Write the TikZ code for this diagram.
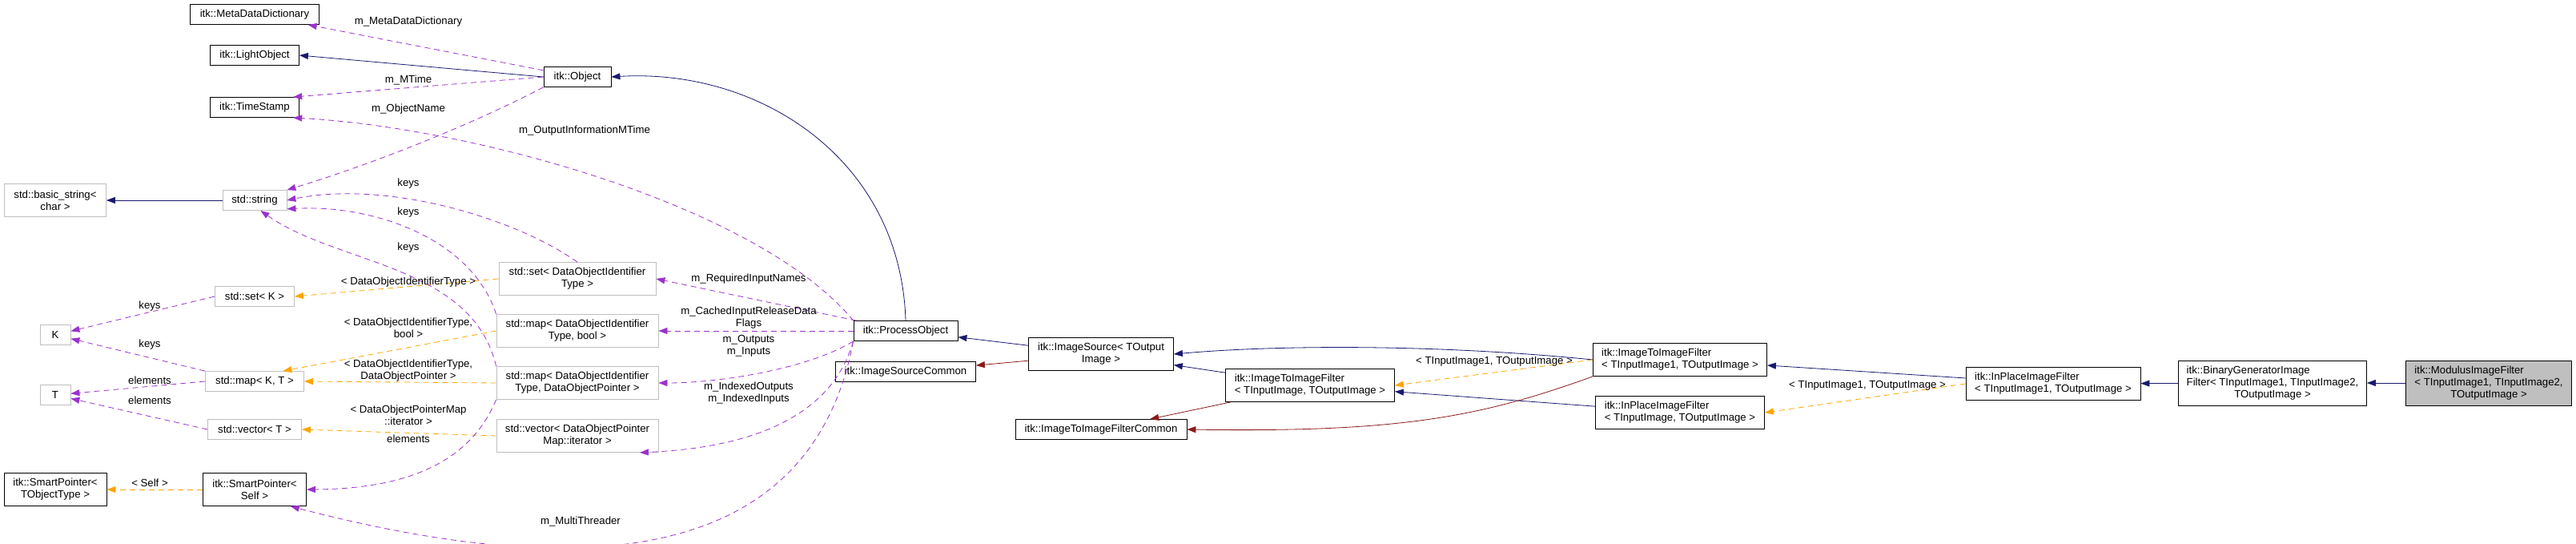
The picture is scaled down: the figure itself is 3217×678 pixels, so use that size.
\documentclass[tikz,border=0pt]{standalone}
\usepackage{fontspec}
\setmainfont{Liberation Sans}
\usetikzlibrary{arrows.meta, positioning, calc}
\definecolor{inhblue}{RGB}{25, 25, 112}
\definecolor{privred}{RGB}{139, 26, 26}
\definecolor{usepurple}{RGB}{154, 50, 205}
\definecolor{tmplorange}{RGB}{255, 165, 0}
\definecolor{boxgray}{RGB}{191, 191, 191}

\tikzset{
    cls/.style={draw=black, thick, fill=white, align=center, inner sep=2pt,
        minimum height=25pt, font=\fontsize{13.2}{15}\selectfont},
    ext/.style={cls, draw=boxgray},
    two/.style={minimum height=41pt},
    inherit/.style={-{Triangle[length=11pt, width=8pt, fill=inhblue]}, draw=inhblue, thick},
    private/.style={-{Triangle[length=11pt, width=8pt, fill=privred]}, draw=privred, thick},
    uses/.style={-{Triangle[length=11pt, width=8pt, fill=usepurple]}, draw=usepurple, thick, dash pattern=on 7pt off 5pt},
    tmpl/.style={-{Triangle[length=11pt, width=8pt, fill=tmplorange]}, draw=tmplorange, thick, dash pattern=on 7pt off 5pt},
    lbl/.style={align=center, font=\fontsize{13.2}{15}\selectfont, inner sep=1pt}
}

\begin{document}
\begin{tikzpicture}[x=1pt, y=-1pt]
    \useasboundingbox (0,0) rectangle (3217,678);

    % Classes on the left
    \node[cls, minimum width=161pt] (meta) at (318,18) {itk::MetaDataDictionary};
    \node[cls, minimum width=111pt] (light) at (318,69) {itk::LightObject};
    \node[cls, minimum width=111pt] (stamp) at (318,134) {itk::TimeStamp};
    \node[cls, minimum width=84pt] (obj) at (721,96) {itk::Object};
    \node[ext, two, minimum width=127pt] (basic) at (69,250) {std::basic\_string<\\char >};
    \node[ext, minimum width=80pt] (str) at (318,250) {std::string};
    \node[ext, minimum width=99pt] (setk) at (318,370) {std::set< K >};
    \node[ext, minimum width=38pt] (K) at (69,418) {K};
    \node[ext, minimum width=123pt] (mapkt) at (318,476) {std::map< K, T >};
    \node[ext, minimum width=38pt] (T) at (69,493) {T};
    \node[ext, minimum width=117pt] (vect) at (318,536) {std::vector< T >};
    \node[cls, two, minimum width=128pt] (sptobj) at (69,611) {itk::SmartPointer<\\TObjectType >};
    \node[cls, two, minimum width=129pt] (spself) at (318,611) {itk::SmartPointer<\\Self >};

    % Containers of the process object
    \node[ext, two, minimum width=196pt] (setd) at (721,348) {std::set< DataObjectIdentifier\\Type >};
    \node[ext, two, minimum width=202pt] (mapb) at (721,413) {std::map< DataObjectIdentifier\\Type, bool >};
    \node[ext, two, minimum width=202pt] (mapp) at (721,478) {std::map< DataObjectIdentifier\\Type, DataObjectPointer >};
    \node[ext, two, minimum width=202pt] (vecd) at (721,544) {std::vector< DataObjectPointer\\Map::iterator >};

    % Filter hierarchy
    \node[cls, minimum width=130pt] (po) at (1131,413) {itk::ProcessObject};
    \node[cls, minimum width=175pt] (isc) at (1131,464) {itk::ImageSourceCommon};
    \node[cls, two, minimum width=181pt] (is) at (1375,442) {itk::ImageSource< TOutput\\Image >};
    \node[cls, minimum width=214pt] (iifc) at (1375,536) {itk::ImageToImageFilterCommon};
    \node[cls, two, minimum width=211pt, align=left] (iif) at (1636,481) {itk::ImageToImageFilter\\< TInputImage, TOutputImage >};
    \node[cls, two, minimum width=217pt, align=left] (iif1) at (2098,449) {itk::ImageToImageFilter\\< TInputImage1, TOutputImage >};
    \node[cls, two, minimum width=211pt, align=left] (inp) at (2098,515) {itk::InPlaceImageFilter\\< TInputImage, TOutputImage >};
    \node[cls, two, minimum width=218pt, align=left] (inp1) at (2564,479) {itk::InPlaceImageFilter\\< TInputImage1, TOutputImage >};
    \node[cls, minimum width=235pt, minimum height=56pt] (bin) at (2838,478)
        {\begin{tabular}{@{}l@{}}itk::BinaryGeneratorImage\\Filter< TInputImage1, TInputImage2,\\\hfil TOutputImage >\end{tabular}};
    \node[cls, fill=boxgray, minimum width=207pt, minimum height=56pt] (mod) at (3108,478)
        {\begin{tabular}{@{}l@{}}itk::ModulusImageFilter\\< TInputImage1, TInputImage2,\\\hfil TOutputImage >\end{tabular}};

    % Inheritance
    \draw[inherit] (obj.west) -- (light.east);
    \draw[inherit] (po.north) .. controls (1125,200) and (950,85) .. (obj.east);
    \draw[inherit] (str) -- (basic);
    \draw[inherit] (is) -- (po);
    \draw[inherit] (iif) -- (is);
    \draw[inherit] (iif1.west) .. controls (1800,430) and (1600,430) .. (is.east);
    \draw[inherit] (inp) -- (iif);
    \draw[inherit] (inp1) -- (iif1);
    \draw[inherit] (bin) -- (inp1);
    \draw[inherit] (mod) -- (bin);
    \draw[private] (is) -- (isc);
    \draw[private] (iif) -- (iifc);
    \draw[private] (iif1.south west) .. controls (1850,520) and (1750,540) .. (iifc.east);

    % Template instances
    \draw[tmpl] (setd.west) -- (setk.east);
    \draw[tmpl] (mapb.west) -- (mapkt.20);
    \draw[tmpl] (mapp.west) -- (mapkt.east);
    \draw[tmpl] (vecd.west) -- (vect.east);
    \draw[tmpl] (spself) -- (sptobj);
    \draw[tmpl] (iif1.west) -- (iif.east);
    \draw[tmpl] (inp1.west) -- (inp.east);

    % Usage
    \draw[uses] (obj) -- (meta);
    \draw[uses] (obj.west) -- (stamp.15);
    \draw[uses] (po.north west) .. controls (950,260) and (600,160) .. (stamp.-15);
    \draw[uses] (obj.south west) .. controls (600,150) and (480,200) .. (str.north east);
    \draw[uses] (setd.north) .. controls (640,270) and (480,225) .. (str.east);
    \draw[uses] (mapb.north west) .. controls (590,300) and (470,255) .. (str.-15);
    \draw[uses] (mapp.north west) .. controls (590,330) and (420,330) .. (str.-60);
    \draw[uses] (setk.west) -- (K);
    \draw[uses] (mapkt.north west) -- (K);
    \draw[uses] (mapkt.west) -- (T);
    \draw[uses] (vect.west) -- (T);
    \draw[uses] (mapp.south west) .. controls (590,570) and (520,610) .. (spself.east);
    \draw[uses] (po.south west) .. controls (1010,720) and (700,720) .. (spself.-25);
    \draw[uses] (po) -- (setd.east);
    \draw[uses] (po.west) -- (mapb.east);
    \draw[uses] (po.south west) .. controls (1010,460) and (900,478) .. (mapp.east);
    \draw[uses] (po.south west) .. controls (1050,480) and (1000,556) .. (vecd.-15);

    % Edge labels
    \node[lbl] (lMeta) at (510,27) {m\_MetaDataDictionary};
    \node[lbl] (lMTime) at (510,100) {m\_MTime};
    \node[lbl] (lName) at (510,136) {m\_ObjectName};
    \node[lbl] (lInfo) at (730,163) {m\_OutputInformationMTime};
    \node[lbl] (lKeysA) at (510,229) {keys};
    \node[lbl] (lKeysB) at (510,265) {keys};
    \node[lbl] (lKeysC) at (510,309) {keys};
    \node[lbl] (lSetT) at (510,352) {< DataObjectIdentifierType >};
    \node[lbl] (lMapB) at (510,409) {< DataObjectIdentifierType,\\bool >};
    \node[lbl] (lMapP) at (510,463) {< DataObjectIdentifierType,\\DataObjectPointer >};
    \node[lbl] (lVecD) at (510,518) {< DataObjectPointerMap\\::iterator >};
    \node[lbl] (lElem) at (510,548) {elements};
    \node[lbl] (lKeysK) at (187,382) {keys};
    \node[lbl] (lKeysM) at (187,430) {keys};
    \node[lbl] (lElemM) at (187,475) {elements};
    \node[lbl] (lElemV) at (187,500) {elements};
    \node[lbl] (lSelf) at (187,603) {< Self >};
    \node[lbl] (lReq) at (935,348) {m\_RequiredInputNames};
    \node[lbl] (lCache) at (935,397) {m\_CachedInputReleaseData\\Flags};
    \node[lbl] (lOut) at (935,432) {m\_Outputs\\m\_Inputs};
    \node[lbl] (lIdx) at (935,491) {m\_IndexedOutputs\\m\_IndexedInputs};
    \node[lbl] (lThr) at (725,651) {m\_MultiThreader};
    \node[lbl] (lIIF) at (1866,451) {< TInputImage1, TOutputImage >};
    \node[lbl] (lInp) at (2332,481) {< TInputImage1, TOutputImage >};
\end{tikzpicture}
\end{document}
